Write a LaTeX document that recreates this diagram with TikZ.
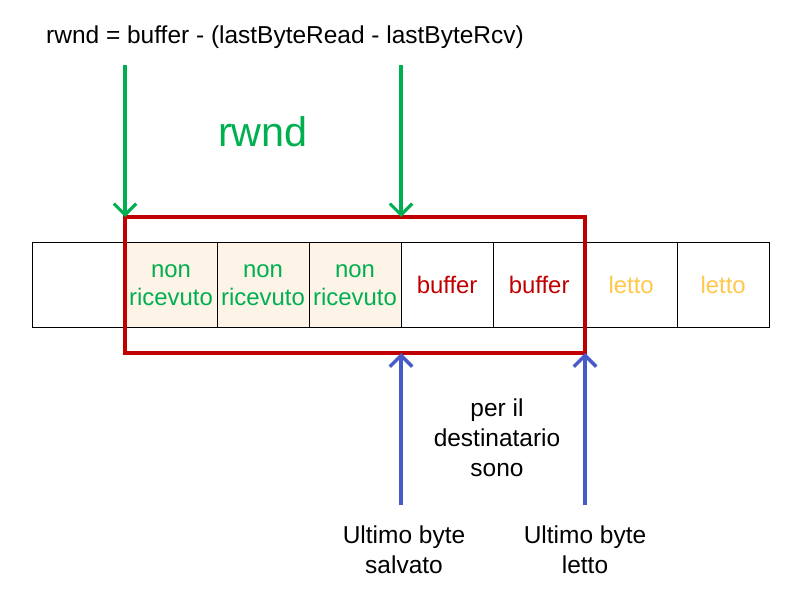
\documentclass[tikz,border=0pt]{standalone}
\usepackage{fontspec}
\setmainfont{Liberation Sans}
\usetikzlibrary{positioning,arrows.meta}
\definecolor{wingreen}{RGB}{0,176,80}
\definecolor{winred}{RGB}{192,0,0}
\definecolor{readyellow}{RGB}{255,200,75}
\definecolor{ptrblue}{RGB}{72,90,200}
\definecolor{missfill}{RGB}{253,243,231}

\begin{document}
\begin{tikzpicture}[x=0.025cm,y=-0.025cm,
  cell/.style={draw,line width=0.7pt,outer sep=0pt,inner sep=0pt,
    minimum width=2.3cm,minimum height=2.1cm,align=center,
    font=\fontsize{17}{20}\selectfont},
  missing/.style={cell,fill=missfill,text=wingreen},
  inbuf/.style={cell,text=winred},
  done/.style={cell,text=readyellow},
  label/.style={align=center,font=\fontsize{17.4}{21.3}\selectfont},
  greenarrow/.style={wingreen,line width=2.2pt,-{Straight Barb[length=8pt,width=16pt]}},
  bluearrow/.style={ptrblue,line width=2.4pt,-{Straight Barb[length=8pt,width=16pt]}}]
\useasboundingbox (0,0) rectangle (799,602);

% Draw the byte cells
\node[cell] (c1) at (79,285) {};
\node[missing,right=0pt of c1] (c2) {non\\ricevuto};
\node[missing,right=0pt of c2] (c3) {non\\ricevuto};
\node[missing,right=0pt of c3] (c4) {non\\ricevuto};
\node[inbuf,right=0pt of c4] (c5) {buffer};
\node[inbuf,right=0pt of c5] (c6) {buffer};
\node[done,right=0pt of c6] (c7) {letto};
\node[done,right=0pt of c7] (c8) {letto};

% Draw the receive window
\coordinate (wtl) at (125,217);
\coordinate (wtm) at (401,217);
\coordinate (wbm) at (401,353);
\coordinate (wbr) at (585,353);
\draw[winred,line width=2.8pt] (wtl) rectangle (wbr);

% Formula and rwnd arrows
\node[label] (formula) at (285,37) {rwnd = buffer - (lastByteRead - lastByteRcv)};
\node[wingreen,font=\fontsize{29.4}{34}\selectfont] (rwndlbl) at (263,132) {rwnd};
\coordinate (g1) at (125,65);
\coordinate (g2) at (401,65);
\draw[greenarrow] (g1) -- (wtl);
\draw[greenarrow] (g2) -- (wtm);

% Pointers of the receiver
\node[label] (note) at (497,438) {per il\\destinatario\\sono};
\node[label] (lastsaved) at (404,550) {Ultimo byte\\salvato};
\node[label] (lastread) at (585,550) {Ultimo byte\\letto};
\coordinate (b1) at (401,505);
\coordinate (b2) at (585,505);
\draw[bluearrow] (b1) -- (wbm);
\draw[bluearrow] (b2) -- (wbr);
\end{tikzpicture}
\end{document}
